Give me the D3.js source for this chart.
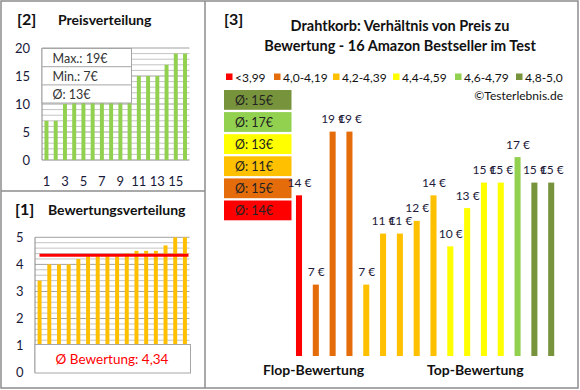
<!DOCTYPE html>
<html>
<head>
<meta charset="utf-8">
<script src="https://cdn.jsdelivr.net/npm/d3@7"></script>
<style>
  body { margin: 0; background: #fff; }
  text { font-family: Lato, "Open Sans", sans-serif; }
</style>
</head>
<body>
<div id="canvas"></div>
<script>
"use strict";

// prices of the 16 products, sorted by rating (flop -> top)
const productPrices = [14, 7, 19, 19, 7, 11, 11, 12, 14, 10, 13, 15, 15, 17, 15, 15];
const productRatings = [3.4, 4.0, 4.0, 4.0, 4.2, 4.3, 4.3, 4.3, 4.3, 4.4, 4.5, 4.5, 4.5, 4.7, 5.0, 5.0];

const classLabels = ["<3,99", "4,0-4,19", "4,2-4,39", "4,4-4,59", "4,6-4,79", "4,8-5,0"];
const classColors = ["#FF0000", "#E46C0A", "#FFC000", "#FFFF00", "#92D050", "#77933C"];
const classLimits = [4.0, 4.2, 4.4, 4.6, 4.8];

const priceTicks = [0, 5, 10, 15, 20];
const ratingTicks = [0, 1, 2, 3, 4, 5];

const axisColor = "#1a1a3a";
const frameColor = "#8c8c8c";

let svg = d3.select("#canvas")
    .append("svg")
    .attr("width", 580)
    .attr("height", 390);

function ratingClass(r) {
    let i = 0;
    while (i < classLimits.length && r >= classLimits[i] - 1e-9) i++;
    return i;
}

// frames
svg.append("rect")
    .attr("x", 1).attr("y", 1).attr("width", 577).attr("height", 387)
    .attr("fill", "none").attr("stroke", frameColor).attr("stroke-width", 1.5);
svg.append("line")
    .attr("x1", 205).attr("x2", 205).attr("y1", 1).attr("y2", 388)
    .attr("stroke", frameColor).attr("stroke-width", 1.5);
svg.append("line")
    .attr("x1", 1).attr("x2", 205).attr("y1", 191).attr("y2", 191)
    .attr("stroke", frameColor).attr("stroke-width", 1.5);

function panelTitle(num, x, title, tx, y) {
    svg.append("text").attr("x", x).attr("y", y)
        .attr("font-size", 16).attr("font-weight", "bold").attr("fill", "#111")
        .text(num);
    svg.append("text").attr("x", tx).attr("y", y)
        .attr("font-size", 14).attr("font-weight", "bold").attr("fill", "#111")
        .text(title);
}

// ---------- [2] Preisverteilung ----------
let priceSorted = productPrices.slice().sort((a, b) => a - b);

panelTitle("[2]", 17, "Preisverteilung", 58, 25);

let x2 = d3.scaleBand().domain(d3.range(1, 17)).range([42, 189.5])
    .paddingInner(0.57).paddingOuter(0.27);
let y2 = d3.scaleLinear().domain([0, 20]).range([160, 48]);

let g2 = svg.append("g");
g2.selectAll("line.grid").data(d3.range(1, 21)).join("line")
    .attr("x1", 42).attr("x2", 189.5)
    .attr("y1", d => y2(d)).attr("y2", d => y2(d))
    .attr("stroke", d => d % 5 === 0 ? "#a0a0a0" : "#c4c4c4").attr("stroke-width", 1);
g2.append("line").attr("x1", 42).attr("x2", 42).attr("y1", 48).attr("y2", 160)
    .attr("stroke", "#888");
g2.append("line").attr("x1", 42).attr("x2", 189.5).attr("y1", 160).attr("y2", 160)
    .attr("stroke", "#888");
g2.selectAll("rect.bar").data(priceSorted).join("rect")
    .attr("x", (d, i) => x2(i + 1)).attr("width", x2.bandwidth())
    .attr("y", d => y2(d)).attr("height", d => y2(0) - y2(d))
    .attr("fill", "#92D050");
g2.selectAll("text.yt").data(priceTicks).join("text")
    .attr("x", 30).attr("y", d => y2(d) + 4.5)
    .attr("text-anchor", "end").attr("font-size", 13).attr("fill", axisColor)
    .text(d => d);
g2.selectAll("text.xt").data(d3.range(1, 17, 2)).join("text")
    .attr("x", d => x2(d) + x2.bandwidth() / 2).attr("y", 186)
    .attr("text-anchor", "middle").attr("font-size", 13).attr("fill", axisColor)
    .text(d => d);

// info box
let infoRows = [
    "Max.: " + d3.max(priceSorted) + "€",
    "Min.: " + d3.min(priceSorted) + "€",
    "Ø: " + Math.round(d3.mean(priceSorted)) + "€"
];
g2.append("rect").attr("x", 42).attr("y", 48.5).attr("width", 89.5).attr("height", 54.5)
    .attr("fill", "#fff").attr("stroke", "#a6a6a6");
g2.selectAll("line.sep").data([1, 2]).join("line")
    .attr("x1", 42).attr("x2", 131.5)
    .attr("y1", d => 48.5 + d * 18.2).attr("y2", d => 48.5 + d * 18.2)
    .attr("stroke", "#a6a6a6");
g2.selectAll("text.info").data(infoRows).join("text")
    .attr("x", 52.5).attr("y", (d, i) => 62.5 + i * 18.2)
    .attr("font-size", 12.5).attr("fill", "#333")
    .text(d => d);

// ---------- [1] Bewertungsverteilung ----------
panelTitle("[1]", 15, "Bewertungsverteilung", 48, 215);

let x1 = d3.scaleBand().domain(d3.range(1, 17)).range([35, 189.5])
    .paddingInner(0.59).paddingOuter(0.27);
let y1 = d3.scaleLinear().domain([0, 5]).range([372.7, 237.3]);

let g1 = svg.append("g");
g1.selectAll("line.grid").data(d3.range(1, 26)).join("line")
    .attr("x1", 35).attr("x2", 189.5)
    .attr("y1", d => y1(d / 5)).attr("y2", d => y1(d / 5))
    .attr("stroke", d => d % 5 === 0 ? "#a0a0a0" : "#c4c4c4").attr("stroke-width", 1);
g1.append("line").attr("x1", 35).attr("x2", 35).attr("y1", 237.3).attr("y2", 372.7)
    .attr("stroke", "#888");
g1.selectAll("rect.bar").data(productRatings).join("rect")
    .attr("x", (d, i) => x1(i + 1)).attr("width", x1.bandwidth())
    .attr("y", d => y1(d)).attr("height", d => y1(0) - y1(d))
    .attr("fill", "#FFC000");
g1.selectAll("text.yt").data(ratingTicks).join("text")
    .attr("x", 23.5).attr("y", d => y1(d) + 4.5)
    .attr("text-anchor", "end").attr("font-size", 13).attr("fill", axisColor)
    .text(d => d);

let avgRating = Math.round(d3.mean(productRatings) * 100 + 1e-6) / 100;
g1.append("line")
    .attr("x1", 39.5).attr("x2", 188.5)
    .attr("y1", y1(avgRating)).attr("y2", y1(avgRating))
    .attr("stroke", "#FF0000").attr("stroke-width", 3);
g1.append("rect").attr("x", 35).attr("y", 344.5).attr("width", 155.5).attr("height", 28.5)
    .attr("fill", "#fff").attr("stroke", "#a6a6a6");
g1.append("text").attr("x", 112).attr("y", 364)
    .attr("text-anchor", "middle").attr("font-size", 13.5).attr("fill", "#FF0000")
    .text("Ø Bewertung: " + avgRating.toFixed(2).replace(".", ","));

// ---------- [3] Preis zu Bewertung ----------
svg.append("text").attr("x", 224).attr("y", 25)
    .attr("font-size", 16).attr("font-weight", "bold").attr("fill", "#111").text("[3]");
svg.selectAll("text.title3")
    .data(["Drahtkorb: Verhältnis von Preis zu", "Bewertung - 16 Amazon Bestseller im Test"])
    .join("text")
    .attr("x", 400).attr("y", (d, i) => 31 + i * 20)
    .attr("text-anchor", "middle").attr("font-size", 14.5).attr("font-weight", "bold")
    .attr("fill", "#111")
    .text(d => d);

// legend
let legendX = [226, 274, 333, 393, 455, 516];
let leg = svg.append("g").selectAll("g").data(classLabels).join("g")
    .attr("transform", (d, i) => `translate(${legendX[i]},77)`);
leg.append("rect").attr("x", 0).attr("y", -3.5).attr("width", 6.5).attr("height", 6.5)
    .attr("fill", (d, i) => classColors[i]);
leg.append("text").attr("x", 9).attr("y", 4.5)
    .attr("font-size", 12).attr("fill", "#111").text(d => d);

svg.append("text").attr("x", 563).attr("y", 100)
    .attr("text-anchor", "end").attr("font-size", 12).attr("fill", "#111")
    .text("©Testerlebnis.de");

// average price per rating class (top box = best class)
let classes = d3.range(classLabels.length).reverse().map(c => {
    let prices = productPrices.filter((p, i) => ratingClass(productRatings[i]) === c);
    return { c: c, avg: Math.round(d3.mean(prices)) };
});
let boxes = svg.append("g").selectAll("g").data(classes).join("g")
    .attr("transform", (d, i) => `translate(224,${90 + i * 22.1})`);
boxes.append("rect").attr("width", 67.5).attr("height", 19.8)
    .attr("fill", d => classColors[d.c]);
boxes.append("text").attr("x", 11).attr("y", 14.5)
    .attr("font-size", 12.5).attr("fill", "#222")
    .text(d => "Ø: " + d.avg + "€");

// bars
let x3 = d3.scaleBand().domain(d3.range(16)).range([290.6, 559.6])
    .paddingInner(0.64).paddingOuter(0.32);
let y3 = d3.scaleLinear().domain([1.4, 20]).range([356, 118.85]);

let g3 = svg.append("g");
g3.selectAll("rect").data(productPrices).join("rect")
    .attr("x", (d, i) => x3(i)).attr("width", x3.bandwidth())
    .attr("y", d => y3(d)).attr("height", d => y3(1.4) - y3(d))
    .attr("fill", (d, i) => classColors[ratingClass(productRatings[i])]);
g3.selectAll("text").data(productPrices).join("text")
    .attr("x", (d, i) => x3(i) + x3.bandwidth() / 2 + 0.5)
    .attr("y", d => y3(d) - 8.5)
    .attr("text-anchor", "middle").attr("font-size", 12).attr("fill", "#221a3a")
    .text(d => d + " €");

svg.append("text").attr("x", 263).attr("y", 375)
    .attr("font-size", 14).attr("font-weight", "bold").attr("fill", "#111")
    .text("Flop-Bewertung");
svg.append("text").attr("x", 427).attr("y", 375)
    .attr("font-size", 14).attr("font-weight", "bold").attr("fill", "#111")
    .text("Top-Bewertung");
</script>
</body>
</html>
